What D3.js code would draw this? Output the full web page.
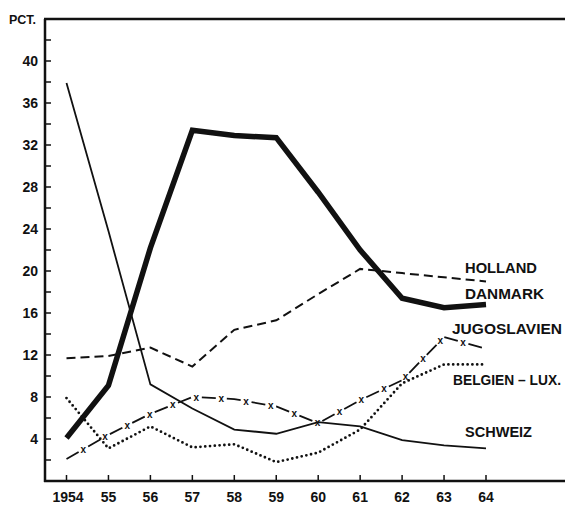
<html>
<head>
  <script src="https://d3js.org/d3.v7.min.js"></script>
  <style>
    body { margin: 0; background: #fff; }
    text { font-family: "Liberation Sans", Arial, sans-serif; font-weight: bold; fill: #111; }
  </style>
</head>
<body>
  <svg id="chart" width="565" height="505"></svg>
  <script>
    const years = [1954, 1955, 1956, 1957, 1958, 1959, 1960, 1961, 1962, 1963, 1964];
    const yearLabels = ["1954", "55", "56", "57", "58", "59", "60", "61", "62", "63", "64"];
    const yTicks = [4, 8, 12, 16, 20, 24, 28, 32, 36, 40];

    const danmark = [4.1, 9.1, 22.2, 33.4, 32.9, 32.7, 27.5, 22.0, 17.4, 16.5, 16.8];
    const holland = [11.7, 11.9, 12.7, 10.9, 14.4, 15.3, 17.8, 20.2, 19.8, 19.4, 19.0];
    const jugoslavien = [2.1, 4.4, 6.4, 8.0, 7.8, 7.1, 5.5, 7.7, 9.6, 13.7, 12.6];
    const belgien = [7.9, 3.1, 5.2, 3.2, 3.5, 1.8, 2.7, 4.9, 9.3, 11.1, 11.1];
    const schweiz = [37.9, 23.8, 9.2, 6.9, 4.9, 4.5, 5.6, 5.2, 3.9, 3.4, 3.1];

    const svg = d3.select("svg#chart");
    const xScale = d3.scaleLinear().domain([1954, 1964]).range([66.5, 486]);
    const yScale = d3.scaleLinear().domain([0, 40]).range([481, 61]);

    // frame: left axis, top rule, bottom axis
    svg.append("line").attr("x1", 45).attr("x2", 45).attr("y1", 19).attr("y2", 482)
      .attr("stroke", "#111").attr("stroke-width", 2.5);
    svg.append("line").attr("x1", 44).attr("x2", 565).attr("y1", 19).attr("y2", 19)
      .attr("stroke", "#111").attr("stroke-width", 2.5);
    svg.append("line").attr("x1", 44).attr("x2", 565).attr("y1", 481).attr("y2", 481)
      .attr("stroke", "#111").attr("stroke-width", 2.5);

    // y ticks (inside), every 2
    const minor = d3.range(2, 44, 2);
    svg.selectAll(".ytick").data(minor).enter().append("line")
      .attr("x1", 45).attr("x2", 51)
      .attr("y1", d => yScale(d)).attr("y2", d => yScale(d))
      .attr("stroke", "#111").attr("stroke-width", 1.5);
    svg.selectAll(".ylab").data(yTicks).enter().append("text")
      .attr("x", 38).attr("y", d => yScale(d) + 5)
      .attr("text-anchor", "end").attr("font-size", 14)
      .text(d => d);
    svg.append("text").attr("x", 9).attr("y", 24).attr("font-size", 12.5).text("PCT.");

    // x ticks
    svg.selectAll(".xtick").data(years).enter().append("line")
      .attr("x1", d => xScale(d)).attr("x2", d => xScale(d))
      .attr("y1", 475).attr("y2", 481)
      .attr("stroke", "#111").attr("stroke-width", 1.5);
    svg.selectAll(".xlab").data(years).enter().append("text")
      .attr("x", d => xScale(d)).attr("y", 502)
      .attr("text-anchor", (d, i) => i === 0 ? "start" : "middle")
      .attr("dx", (d, i) => i === 0 ? -14 : 0)
      .attr("font-size", 14)
      .text((d, i) => yearLabels[i]);

    const line = d3.line().x((d, i) => xScale(years[i])).y(d => yScale(d));

    svg.append("path").datum(schweiz).attr("d", line)
      .attr("fill", "none").attr("stroke", "#111").attr("stroke-width", 1.8);

    svg.append("path").datum(belgien).attr("d", line)
      .attr("fill", "none").attr("stroke", "#111").attr("stroke-width", 2.8)
      .attr("stroke-linecap", "round").attr("stroke-dasharray", "0,4.8");

    svg.append("path").datum(holland).attr("d", line)
      .attr("fill", "none").attr("stroke", "#111").attr("stroke-width", 2)
      .attr("stroke-dasharray", "9,5");

    const jugPath = svg.append("path").datum(jugoslavien).attr("d", line)
      .attr("fill", "none").attr("stroke", "#111").attr("stroke-width", 1.8)
      .attr("stroke-dasharray", "14,11");
    // x marks in the gaps of the dash pattern
    const node = jugPath.node();
    const total = node.getTotalLength();
    const marks = d3.range(19.5, total, 25).map(l => node.getPointAtLength(l));
    svg.selectAll(".xm").data(marks).enter().append("text")
      .attr("x", d => d.x).attr("y", d => d.y + 3.5)
      .attr("text-anchor", "middle").attr("font-size", 10)
      .text("x");

    svg.append("path").datum(danmark).attr("d", line)
      .attr("fill", "none").attr("stroke", "#111").attr("stroke-width", 5.5)
      .attr("stroke-linejoin", "miter");

    // series labels
    const labels = [
      { t: "HOLLAND", x: 465, y: 273, w: 72 },
      { t: "DANMARK", x: 465, y: 299, w: 79 },
      { t: "JUGOSLAVIEN", x: 452, y: 334, w: 110 },
      { t: "BELGIEN – LUX.", x: 453, y: 385, w: 108 },
      { t: "SCHWEIZ", x: 465, y: 437, w: 67 }
    ];
    svg.selectAll(".slab").data(labels).enter().append("text")
      .attr("x", d => d.x).attr("y", d => d.y)
      .attr("font-size", 14)
      .attr("textLength", d => d.w).attr("lengthAdjust", "spacingAndGlyphs")
      .text(d => d.t);
  </script>
</body>
</html>
